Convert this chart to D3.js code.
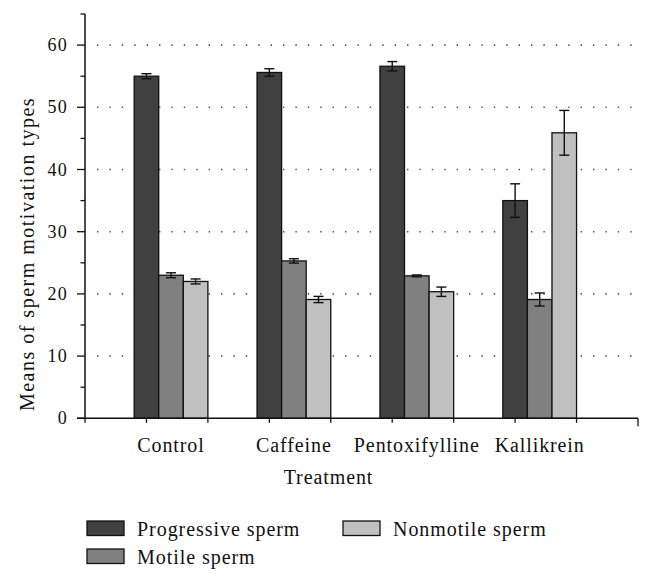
<!DOCTYPE html>
<html><head><meta charset="utf-8">
<script src="https://cdn.jsdelivr.net/npm/d3@7"></script>
<style>
body{margin:0;background:#fff;}
text{font-family:"Liberation Serif","Times New Roman",serif;fill:#111;}
</style></head>
<body><svg id="c" width="653" height="582"></svg>
<script>
const categories = ["Control","Caffeine","Pentoxifylline","Kallikrein"];
const seriesNames = ["Progressive sperm","Motile sperm","Nonmotile sperm"];
const progressive = [55.0, 55.6, 56.6, 35.0];
const progressiveErr = [0.4, 0.6, 0.75, 2.7];
const motile = [23.0, 25.3, 22.9, 19.1];
const motileErr = [0.4, 0.35, 0.15, 1.05];
const nonmotile = [22.0, 19.1, 20.35, 45.9];
const nonmotileErr = [0.4, 0.5, 0.75, 3.6];
const yTicks = [0,10,20,30,40,50,60];
const colors = ["#404040","#808080","#c0c0c0"];

const svg = d3.select("#c");
const x = d3.scaleLinear().domain([0,9]).range([85,638]);
const y = d3.scaleLinear().domain([0,65]).range([418.3,14]);
const series = [
  {vals:progressive, err:progressiveErr},
  {vals:motile, err:motileErr},
  {vals:nonmotile, err:nonmotileErr}
];
const bw = 0.4;
// gridlines
svg.append("g").selectAll("line").data(yTicks.filter(d=>d>0)).join("line")
  .attr("x1",97).attr("x2",638).attr("y1",d=>y(d)).attr("y2",d=>y(d))
  .attr("stroke","#555").attr("stroke-width",1.6).attr("stroke-dasharray","1.4,11")
  .attr("stroke-linecap","butt");

// bars
const bars = svg.append("g");
series.forEach((s,si)=>{
  categories.forEach((c,ci)=>{
    const cx = 1 + 2*ci + bw*si;
    bars.append("rect")
      .attr("x", x(cx-bw/2)).attr("width", x(cx+bw/2)-x(cx-bw/2))
      .attr("y", y(s.vals[ci])).attr("height", y(0)-y(s.vals[ci]))
      .attr("fill", colors[si]).attr("stroke","#111").attr("stroke-width",1.3);
    const px = x(cx), lo = y(s.vals[ci]-s.err[ci]), hi = y(s.vals[ci]+s.err[ci]);
    bars.append("line").attr("x1",px).attr("x2",px).attr("y1",lo).attr("y2",hi)
      .attr("stroke","#111").attr("stroke-width",1.4);
    [lo,hi].forEach(yy=>bars.append("line").attr("x1",px-5).attr("x2",px+5)
      .attr("y1",yy).attr("y2",yy).attr("stroke","#111").attr("stroke-width",1.4));
  });
});

// y axis
const yAxis = svg.append("g").attr("transform","translate(85,0)");
yAxis.append("line").attr("x1",0).attr("x2",0).attr("y1",y(65)).attr("y2",y(0))
  .attr("stroke","#111").attr("stroke-width",1.5);
yAxis.selectAll(".minor").data(d3.range(5,70,10)).join("line")
  .attr("x1",-4.5).attr("x2",0).attr("y1",d=>y(d)).attr("y2",d=>y(d))
  .attr("stroke","#111").attr("stroke-width",1.3);
yAxis.selectAll(".major").data(yTicks).join("line")
  .attr("x1",-8).attr("x2",0).attr("y1",d=>y(d)).attr("y2",d=>y(d))
  .attr("stroke","#111").attr("stroke-width",1.3);
yAxis.selectAll("text").data(yTicks).join("text")
  .attr("x",-17).attr("y",d=>y(d)).attr("dy","0.34em")
  .attr("text-anchor","end").attr("font-size",18).attr("letter-spacing",1.2)
  .text(d=>d);

// x axis
const xAxis = svg.append("g").attr("transform",`translate(0,${y(0)})`);
xAxis.append("line").attr("x1",77).attr("x2",638).attr("stroke","#111").attr("stroke-width",1.5);
xAxis.selectAll(".t").data(d3.range(0,10)).join("line")
  .attr("x1",d=>x(d)).attr("x2",d=>x(d)).attr("y1",0).attr("y2",d=>d===9?8:4.5)
  .attr("stroke","#111").attr("stroke-width",1.3);
xAxis.selectAll("text").data(categories).join("text")
  .attr("x",(d,i)=>x(1.4+2*i)).attr("y",34)
  .attr("text-anchor","middle").attr("font-size",20).attr("letter-spacing",0.9)
  .text(d=>d);

svg.append("text").attr("x",328.5).attr("y",484).attr("text-anchor","middle")
  .attr("font-size",20).attr("letter-spacing",0.9).text("Treatment");
svg.append("text").attr("transform","translate(34,254) rotate(-90)")
  .attr("text-anchor","middle").attr("font-size",20).attr("letter-spacing",1.5)
  .text("Means of sperm motivation types");

// legend
const legPos = [[87,521],[87,549],[343,521]];
const leg = svg.append("g");
seriesNames.forEach((n,i)=>{
  const [lx,ly] = legPos[i];
  leg.append("rect").attr("x",lx).attr("y",ly).attr("width",37).attr("height",14.5)
    .attr("fill",colors[i]).attr("stroke","#111").attr("stroke-width",1.3);
  leg.append("text").attr("x",lx+50).attr("y",ly+14.5).attr("font-size",20)
    .attr("letter-spacing",0.95).text(n);
});
</script></body></html>
